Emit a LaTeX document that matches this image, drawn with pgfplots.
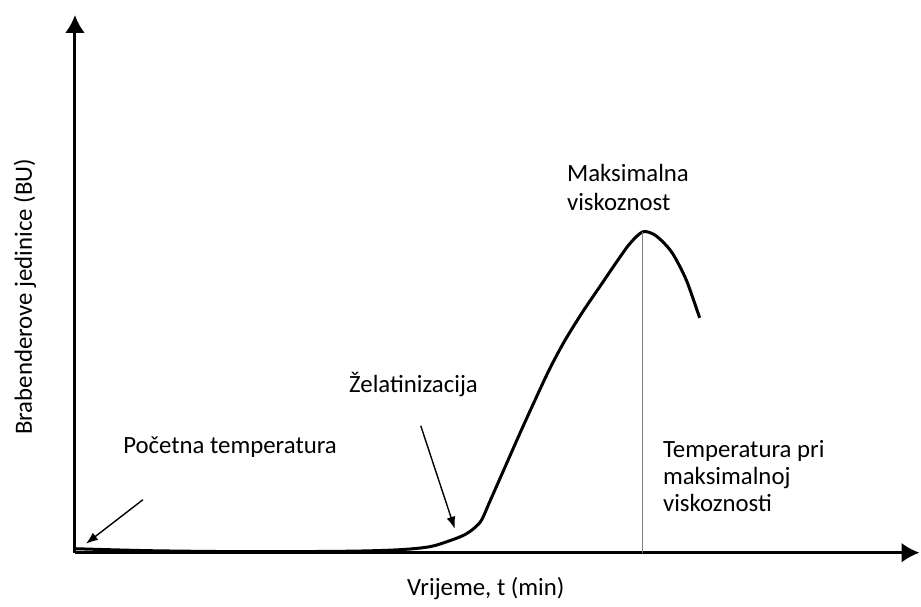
\documentclass[border=0pt]{standalone}
\usepackage{pgfplots}
\pgfplotsset{compat=1.18}
\usepackage{fontspec}
\setmainfont{Carlito}
\usetikzlibrary{arrows.meta}
\begin{document}
\begin{tikzpicture}[x=0.5pt,y=0.5pt]
\begin{axis}[
  scale only axis, width=422.5pt, height=269pt,
  xmin=0, xmax=845, ymin=0, ymax=538,
  axis lines=left,
  axis line style={line width=1.5pt, -{Latex[length=9pt,width=10pt]}},
  xtick=\empty, ytick=\empty,
  clip=false,
  xlabel={Vrijeme, t (min)},
  ylabel={Brabenderove jedinice (BU)},
  xlabel style={at={(axis cs:411,-36)}, anchor=center, font=\fontsize{12.4}{14}\selectfont},
  ylabel style={at={(axis cs:-50,256)}, anchor=center, font=\fontsize{12.4}{14}\selectfont},
]
\path (axis cs:-75,-51) (axis cs:846,553);
% curve
\addplot[line width=1.5pt, smooth] coordinates {
(0,4)(75,2)(175,1)(275,1.5)(325,3)(355,6)(375,12)(390,18)(400,25)(407,33)(415,51)(430,85)(445,119)(460,152)(475,184)(490,212)(508,241)(525,266)(542,291)(555,309)(568,321)(580,318)(592,307)(600,296)(612,272)(625,235)
};
% vertical line at maximum
\addplot[gray, line width=0.6pt] coordinates {(568,0)(568,321)};
% annotation arrows
\addplot[line width=0.7pt, -{Latex[length=6pt,width=4.5pt]}] coordinates {(68,53)(11,9)};
\addplot[line width=0.7pt, -{Latex[length=6pt,width=4.5pt]}] coordinates {(346,127)(380,24)};
\node[anchor=west, font=\fontsize{12.4}{14}\selectfont, inner sep=0pt] at (axis cs:48,106) {Početna temperatura};
\node[anchor=west, font=\fontsize{12.4}{14}\selectfont, inner sep=0pt] at (axis cs:274,168) {Želatinizacija};
\node[anchor=west, align=left, font=\fontsize{12.4}{14.5}\selectfont, inner sep=0pt] at (axis cs:492,365.5) {Maksimalna\\viskoznost};
\node[anchor=west, align=left, font=\fontsize{12.4}{13.5}\selectfont, inner sep=0pt] at (axis cs:588,77) {Temperatura pri\\maksimalnoj\\viskoznosti};
\end{axis}
\end{tikzpicture}
\end{document}
